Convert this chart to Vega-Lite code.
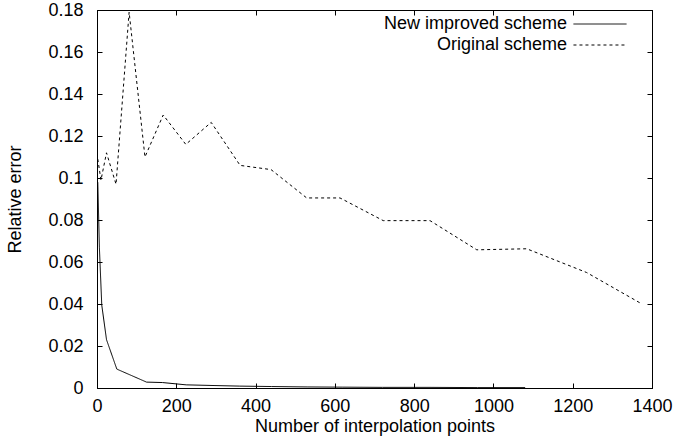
{
  "$schema": "https://vega.github.io/schema/vega-lite/v6.json",
  "width": 555,
  "height": 378,
  "autosize": {"type": "none"},
  "padding": {"left": 97, "top": 10, "right": 22, "bottom": 55},
  "background": "white",
  "config": {
    "font": "Liberation Sans",
    "view": {"stroke": "black", "strokeWidth": 1},
    "axis": {
      "grid": false,
      "domainColor": "black",
      "tickColor": "black",
      "labelColor": "black",
      "titleColor": "black",
      "labelFont": "Liberation Sans",
      "titleFont": "Liberation Sans",
      "labelFontSize": 18,
      "titleFontSize": 18,
      "titleFontWeight": "normal",
      "labelFlush": false,
      "tickSize": -5,
      "tickWidth": 1,
      "domainWidth": 1
    },
    "legend": {
      "orient": "none",
      "legendX": 494,
      "legendY": 5,
      "padding": 0,
      "labelFont": "Liberation Sans",
      "labelFontSize": 18,
      "labelColor": "black",
      "labelAlign": "right",
      "labelOffset": -42,
      "labelLimit": 400,
      "symbolType": "M-4,0H4",
      "symbolSize": 176,
      "symbolStrokeWidth": 1,
      "symbolStrokeColor": "black",
      "symbolFillColor": "transparent",
      "rowPadding": 3
    }
  },
  "data": {
    "values": [
      {"scheme": "New improved scheme", "points": 2, "error": 0.098},
      {"scheme": "New improved scheme", "points": 6, "error": 0.067},
      {"scheme": "New improved scheme", "points": 12, "error": 0.0395},
      {"scheme": "New improved scheme", "points": 24, "error": 0.023},
      {"scheme": "New improved scheme", "points": 50, "error": 0.009},
      {"scheme": "New improved scheme", "points": 125, "error": 0.0028},
      {"scheme": "New improved scheme", "points": 165, "error": 0.0026},
      {"scheme": "New improved scheme", "points": 225, "error": 0.0015},
      {"scheme": "New improved scheme", "points": 290, "error": 0.0012},
      {"scheme": "New improved scheme", "points": 360, "error": 0.0009},
      {"scheme": "New improved scheme", "points": 440, "error": 0.0007},
      {"scheme": "New improved scheme", "points": 530, "error": 0.0005},
      {"scheme": "New improved scheme", "points": 620, "error": 0.0004},
      {"scheme": "New improved scheme", "points": 720, "error": 0.0003},
      {"scheme": "New improved scheme", "points": 840, "error": 0.0003},
      {"scheme": "New improved scheme", "points": 960, "error": 0.0002},
      {"scheme": "New improved scheme", "points": 1080, "error": 0.0002},
      {"scheme": "Original scheme", "points": 2, "error": 0.109},
      {"scheme": "Original scheme", "points": 10, "error": 0.099},
      {"scheme": "Original scheme", "points": 24, "error": 0.112},
      {"scheme": "Original scheme", "points": 48, "error": 0.097},
      {"scheme": "Original scheme", "points": 81, "error": 0.179},
      {"scheme": "Original scheme", "points": 121, "error": 0.110},
      {"scheme": "Original scheme", "points": 167, "error": 0.130},
      {"scheme": "Original scheme", "points": 224, "error": 0.116},
      {"scheme": "Original scheme", "points": 288, "error": 0.1265},
      {"scheme": "Original scheme", "points": 361, "error": 0.106},
      {"scheme": "Original scheme", "points": 439, "error": 0.104},
      {"scheme": "Original scheme", "points": 529, "error": 0.0905},
      {"scheme": "Original scheme", "points": 613, "error": 0.0905},
      {"scheme": "Original scheme", "points": 722, "error": 0.0797},
      {"scheme": "Original scheme", "points": 840, "error": 0.0797},
      {"scheme": "Original scheme", "points": 958, "error": 0.0658},
      {"scheme": "Original scheme", "points": 1084, "error": 0.0663},
      {"scheme": "Original scheme", "points": 1235, "error": 0.055},
      {"scheme": "Original scheme", "points": 1370, "error": 0.0405}
    ]
  },
  "layer": [
    {
      "mark": {"type": "line", "color": "black", "strokeWidth": 1},
      "encoding": {
        "x": {
          "field": "points",
          "type": "quantitative",
          "scale": {"domain": [0, 1400], "nice": false},
          "axis": {
            "values": [0, 200, 400, 600, 800, 1000, 1200, 1400],
            "format": "d",
            "title": "Number of interpolation points",
            "labelPadding": 14,
            "titlePadding": 2
          }
        },
        "y": {
          "field": "error",
          "type": "quantitative",
          "scale": {"domain": [0, 0.18], "nice": false},
          "axis": {
            "values": [0, 0.02, 0.04, 0.06, 0.08, 0.1, 0.12, 0.14, 0.16, 0.18],
            "format": ".2~f",
            "title": "Relative error",
            "labelPadding": 19,
            "titlePadding": 23
          }
        },
        "strokeDash": {
          "field": "scheme",
          "type": "nominal",
          "scale": {
            "domain": ["New improved scheme", "Original scheme"],
            "range": [[1, 0], [3, 3]]
          },
          "legend": {"title": null}
        }
      }
    },
    {
      "mark": {"type": "line", "opacity": 0},
      "encoding": {
        "x": {
          "field": "points",
          "type": "quantitative",
          "axis": {
            "orient": "top",
            "values": [0, 200, 400, 600, 800, 1000, 1200, 1400],
            "labels": false,
            "title": null
          }
        },
        "y": {
          "field": "error",
          "type": "quantitative",
          "axis": {
            "orient": "right",
            "values": [0, 0.02, 0.04, 0.06, 0.08, 0.1, 0.12, 0.14, 0.16, 0.18],
            "labels": false,
            "title": null
          }
        },
        "detail": {"field": "scheme", "type": "nominal"}
      }
    }
  ],
  "resolve": {"axis": {"x": "independent", "y": "independent"}}
}
